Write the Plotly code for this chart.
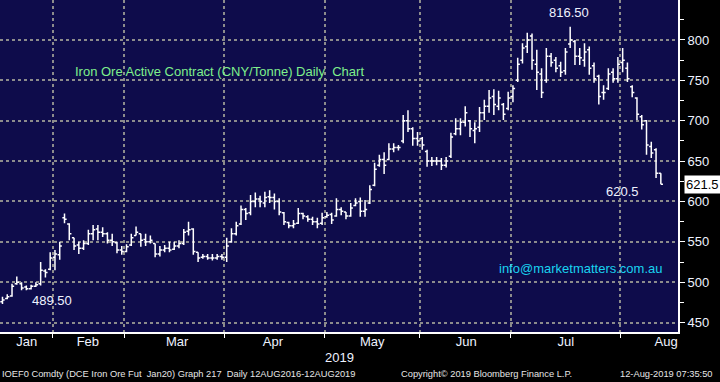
import plotly.graph_objects as go

# ---- data (bar index = trading day from mid-Jan 2019 to 12-Aug-2019) ----
opens = [476,480,483,498,498,494,492,495,498,514,516,531,534,580,572,555,546,542,548,560,
         566,562,560,552,549,540,538,546,558,560,553,550,548,535,540,542,541,545,548,563,
         566,537,531,532,530,530,532,531,550,560,572,590,586,600,603,598,606,605,600,586,
         574,570,573,585,581,578,575,573,581,584,582,590,587,582,595,600,588,598,620,645,
         652,652,665,667,675,700,690,678,678,662,650,650,650,645,656,684,690,698,700,688,
         692,710,718,730,718,720,715,730,750,775,792,805,770,758,750,780,775,768,762,795,
         798,780,775,788,768,755,735,740,760,752,772,765,742,728,705,700,668,664,635]
highs = [482,485,498,507,500,496,497,500,525,516,537,540,550,585,573,555,550,552,565,571,
         571,568,562,560,550,545,547,560,569,560,560,558,548,545,546,550,550,552,566,575,
         567,537,535,535,535,535,535,555,567,575,595,592,608,611,607,612,614,610,604,587,
         575,577,592,586,583,581,580,586,587,586,604,593,587,598,604,605,602,620,648,658,
         661,672,672,670,707,713,692,686,680,664,655,655,654,655,685,703,703,718,701,698,
         717,726,738,739,737,722,736,744,778,796,809,808,788,765,790,784,779,773,790,816.5,
         800,790,796,792,772,757,744,765,765,779,790,772,744,729,707,701,674,666,635]
lows = [473,479,482,497,490,490,491,494,496,506,515,515,528,573,552,540,535,540,546,552,
        552,556,548,545,536,534,537,545,558,544,545,548,531,532,537,537,540,542,546,558,
        534,525,529,528,527,528,528,525,549,558,571,577,583,593,593,593,598,590,583,571,
        567,567,572,578,575,571,567,571,580,572,581,583,578,581,594,581,581,597,619,643,
        634,651,661,663,672,686,669,669,664,643,644,645,639,642,654,682,682,693,680,672,
        686,701,710,707,713,701,713,723,748,771,784,763,738,728,747,767,760,754,757,790,
        769,769,767,757,747,720,726,738,747,747,760,748,729,701,689,658,654,629,621.5]
closes = [478,482,495,500,493,492,495,497,515,512,530,535,545,578,560,545,542,548,560,565,
          562,560,552,550,540,538,544,555,562,552,550,552,535,540,542,540,545,548,562,565,
          538,530,532,530,530,532,531,545,560,570,590,585,600,603,600,605,605,600,587,575,
          570,572,585,582,578,575,572,580,583,577,590,588,582,592,598,588,590,615,640,652,
          645,665,667,667,700,690,678,675,670,650,650,650,645,650,680,690,698,710,690,690,
          710,718,728,720,728,708,728,740,770,790,800,775,760,735,780,772,765,760,785,800,
          780,778,785,765,752,730,735,758,752,770,775,752,735,708,695,670,660,635,621.5]

month_bounds = [10.5, 25.5, 46.5, 67.5, 87.5, 106.5, 129.5]
month_label_pos = [5.1, 17.9, 36.6, 56.7, 77.5, 97.2, 118.1, 139.1]
month_labels = ["Jan", "Feb", "Mar", "Apr", "May", "Jun", "Jul", "Aug"]
y_ticks = [450, 500, 550, 600, 650, 700, 750, 800]

x_idx = list(range(len(closes)))
X_RANGE = [-0.52, 141.6]
Y_RANGE = [438.4, 849.5]

BG = "#0E0C4B"
TXT = "#EEF2FF"
FONT = "Liberation Sans"

fig = go.Figure()
fig.add_trace(go.Ohlc(
    x=x_idx, open=opens, high=highs, low=lows, close=closes,
    increasing=dict(line=dict(color="white", width=1.5)),
    decreasing=dict(line=dict(color="white", width=1.5)),
    tickwidth=0.45, showlegend=False, hoverinfo="skip"))

# invisible trace to carry the month-label axis
fig.add_trace(go.Scatter(x=x_idx, y=closes, xaxis="x2", mode="markers",
                         marker=dict(opacity=0), showlegend=False, hoverinfo="skip"))

# arrow-shaped major ticks on the right axis
fig.add_trace(go.Scatter(x=[X_RANGE[1] + 0.85] * len(y_ticks), y=y_ticks, mode="markers",
                         marker=dict(symbol="triangle-right", size=8, color="white"),
                         cliponaxis=False, showlegend=False, hoverinfo="skip"))

# last-price tag pointer
fig.add_trace(go.Scatter(x=[X_RANGE[1] + 1.0], y=[closes[-1]], mode="markers",
                         marker=dict(symbol="triangle-left", size=10, color="white"),
                         cliponaxis=False, showlegend=False, hoverinfo="skip"))

fig.update_layout(
    width=720, height=382,
    margin=dict(l=0, r=42, t=0, b=50),
    paper_bgcolor="black", plot_bgcolor=BG,
    font=dict(family=FONT, color=TXT, size=13),
    xaxis=dict(range=X_RANGE, rangeslider=dict(visible=False),
               tickvals=month_bounds, ticktext=[""] * len(month_bounds),
               ticks="outside", ticklen=4, tickcolor="white", tickwidth=1,
               showgrid=True, gridcolor="#8C8C8C", griddash="dot", gridwidth=2,
               showline=True, linecolor="white", linewidth=2, zeroline=False,
               fixedrange=True),
    xaxis2=dict(range=X_RANGE, overlaying="x", side="bottom", anchor="y",
                tickvals=month_label_pos, ticktext=month_labels, ticks="",
                showgrid=False, zeroline=False, showline=False,
                tickfont=dict(size=13, color=TXT)),
    yaxis=dict(range=Y_RANGE, side="right", tickvals=y_ticks,
               ticks="outside", ticklen=5, tickcolor="white", tickwidth=1,
               minor=dict(dtick=25, tick0=0, ticks="outside", ticklen=4, tickcolor="white",
                          showgrid=False),
               showgrid=True, gridcolor="#8C8C8C", griddash="dot", gridwidth=2,
               showline=True, linecolor="white", linewidth=2, zeroline=False,
               tickfont=dict(size=13, color=TXT)),
)

i_max = highs.index(max(highs))
FOOT = dict(size=9.3, color="#E6E6E6")
annotations = [
    dict(text="Iron Ore Active Contract (CNY/Tonne) Daily  Chart", xref="paper", yref="paper",
         x=0.107, y=0.786, xanchor="left", yanchor="middle", showarrow=False,
         font=dict(size=13, color="#7FF08C")),
    dict(text="info@marketmatters.com.au", xref="paper", yref="paper",
         x=0.98, y=0.19, xanchor="right", yanchor="middle", showarrow=False,
         font=dict(size=13, color="#19D3F0")),
    dict(text="816.50", x=i_max - 0.2, y=max(highs) + 17, xanchor="center", yanchor="middle",
         showarrow=False, font=dict(size=13, color=TXT)),
    dict(text="620.5", x=len(closes) - 9.1, y=612, xanchor="center", yanchor="middle",
         showarrow=False, font=dict(size=13, color=TXT)),
    dict(text="489.50", x=10.4, y=478, xanchor="center", yanchor="middle",
         showarrow=False, font=dict(size=13, color=TXT)),
    dict(text="621.5", xref="paper", x=1.0095, y=closes[-1], xanchor="left", yanchor="middle",
         showarrow=False, bgcolor="white", borderpad=1, font=dict(size=13, color="black")),
    dict(text="2019", xref="paper", yref="paper", x=0.5, y=-0.078, xanchor="center",
         yanchor="middle", showarrow=False, font=dict(size=13, color=TXT)),
    dict(text="IOEF0 Comdty (DCE Iron Ore Fut  Jan20) Graph 217  Daily 12AUG2016-12AUG2019",
         xref="paper", yref="paper", x=0.0, y=-0.1265, xanchor="left", yanchor="middle",
         showarrow=False, font=FOOT),
    dict(text="Copyright\u00a9 2019 Bloomberg Finance L.P.", xref="paper", yref="paper",
         x=0.588, y=-0.1265, xanchor="left", yanchor="middle", showarrow=False, font=FOOT),
    dict(text="12-Aug-2019 07:35:50", xref="paper", yref="paper", x=0.912, y=-0.1265,
         xanchor="left", yanchor="middle", showarrow=False, font=FOOT),
]
fig.update_layout(annotations=annotations)

fig.write_html("out.html", config={"displayModeBar": False},
               post_script="document.body.style.margin='0';document.body.style.background='black';")
